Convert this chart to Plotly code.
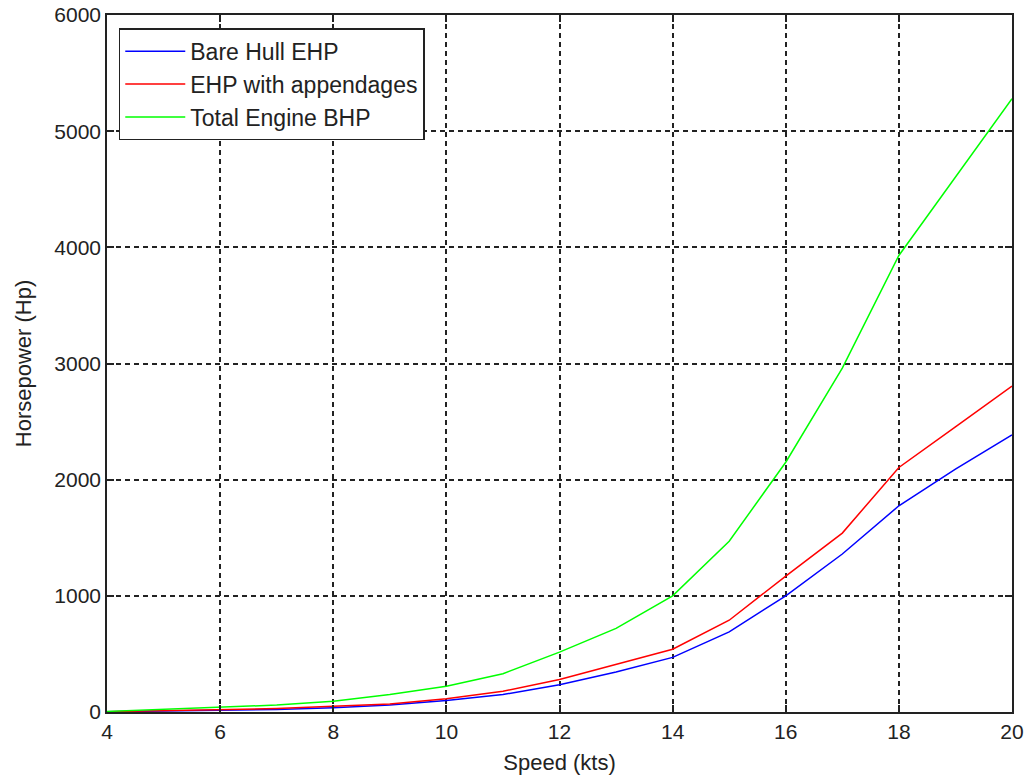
import plotly.graph_objects as go

speed = [4, 5, 6, 7, 8, 9, 10, 11, 12, 13, 14, 15, 16, 17, 18, 19, 20]
bare_hull_ehp = [2, 8, 15, 22, 37, 60, 100, 150, 235, 345, 470, 690, 1000, 1360, 1775, 2090, 2385]
ehp_appendages = [3, 12, 20, 30, 49, 68, 115, 178, 280, 410, 540, 790, 1170, 1540, 2105, 2455, 2805]
total_bhp = [5, 22, 40, 60, 92, 150, 221, 330, 515, 720, 1000, 1470, 2150, 2960, 3930, 4610, 5280]

x_ticks = [4, 6, 8, 10, 12, 14, 16, 18, 20]
y_ticks = [0, 1000, 2000, 3000, 4000, 5000, 6000]

FONT = "Liberation Sans, Arial, sans-serif"

fig = go.Figure()
series = [
    ("Bare Hull EHP", bare_hull_ehp, "#0000ff"),
    ("EHP with appendages", ehp_appendages, "#ff0000"),
    ("Total Engine BHP", total_bhp, "#00ff00"),
]
for i, (name, vals, col) in enumerate(series):
    fig.add_trace(go.Scatter(x=speed, y=vals, mode="lines", name=name,
                             line=dict(color=col, width=1.5), legendgroup=f"g{i}"))

axis_common = dict(
    showline=True, linecolor="#222", linewidth=1.5, mirror="allticks",
    ticks="inside", ticklen=7, tickcolor="#222", tickwidth=1.5,
    showgrid=True, gridcolor="#222", gridwidth=1.5, griddash="5px,4px",
    zeroline=False, automargin=False, ticklabeloverflow="allow",
    tickfont=dict(family=FONT, size=21, color="#222"),
)

fig.update_xaxes(range=[4, 20], tickvals=x_ticks,
                 title=dict(text="Speed (kts)", font=dict(family=FONT, size=22, color="#222"), standoff=13),
                 **axis_common)
fig.update_yaxes(range=[0, 6000], tickvals=y_ticks,
                 title=dict(text="Horsepower (Hp)", font=dict(family=FONT, size=22, color="#222"), standoff=17),
                 **axis_common)

fig.update_layout(
    width=1029, height=782,
    margin=dict(l=107, r=17, t=15, b=70, autoexpand=False),
    paper_bgcolor="white", plot_bgcolor="white",
    font=dict(family=FONT, size=21, color="#222"),
    showlegend=True,
    legend=dict(x=0.013, y=0.981, xanchor="left", yanchor="top",
                bgcolor="white", bordercolor="#222", borderwidth=1.5,
                font=dict(family=FONT, size=23, color="#222"),
                traceorder="grouped", tracegroupgap=0, itemwidth=60),
)

fig.write_html("out.html", config={"displayModeBar": False},
               post_script="document.body.style.margin='0';document.body.style.overflow='hidden';")
